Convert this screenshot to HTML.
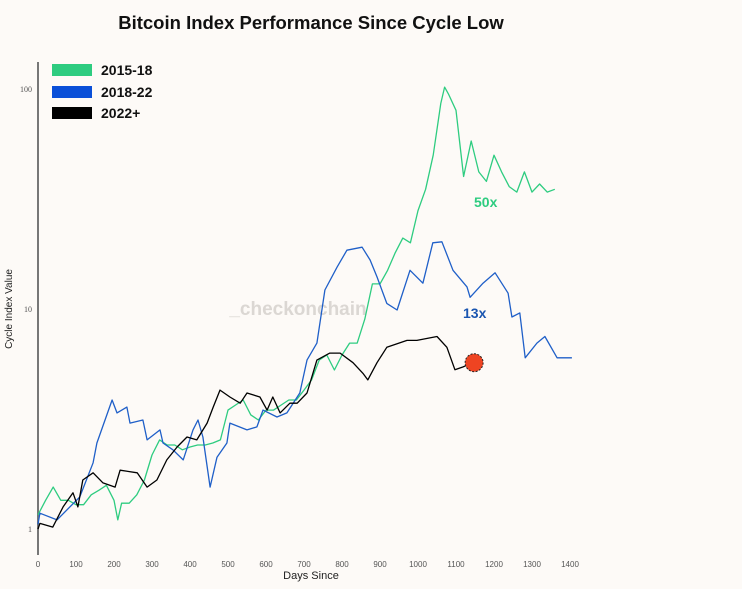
<!DOCTYPE html>
<html><head><meta charset="utf-8">
<style>
body{margin:0;background:#fdfaf7;}
svg{display:block;font-family:"Liberation Sans",sans-serif;}
</style></head>
<body>
<svg id="chart" width="742" height="589" viewBox="0 0 742 589">
<rect width="742" height="589" fill="#fdfaf7"/>
<text x="311" y="29" text-anchor="middle" font-size="18.5" font-weight="bold" fill="#111">Bitcoin Index Performance Since Cycle Low</text>
<text x="298" y="315" text-anchor="middle" font-size="19" font-weight="bold" fill="#dbd7d3">_checkonchain</text>
<line x1="38" y1="62" x2="38" y2="555" stroke="#777" stroke-width="2"/>
<g id="ticks"></g>
<g id="lines"></g>
<text x="12" y="309" transform="rotate(-90 12 309)" text-anchor="middle" font-size="10" fill="#222">Cycle Index Value</text>
<text x="311" y="579" text-anchor="middle" font-size="11" fill="#222">Days Since</text>
<g>
<rect x="52" y="64" width="40" height="12" fill="#2ecc80"/>
<text x="101" y="75" font-size="14" font-weight="bold" fill="#111">2015-18</text>
<rect x="52" y="86" width="40" height="12" fill="#0a4fd8"/>
<text x="101" y="97" font-size="14" font-weight="bold" fill="#111">2018-22</text>
<rect x="52" y="107" width="40" height="12" fill="#000"/>
<text x="101" y="118" font-size="14" font-weight="bold" fill="#111">2022+</text>
</g>
<text x="474" y="207" font-size="14" font-weight="bold" fill="#2ecc80">50x</text>
<text x="463" y="318" font-size="14" font-weight="bold" fill="#1a55b0">13x</text>
</svg>
<script>
const xTicks=[0,100,200,300,400,500,600,700,800,900,1000,1100,1200,1300,1400];
const yTicks=[1,10,100];
const yTickLabels=["1","10","100"];
const greenDays=[0,20,40,60,80,100,120,140,160,180,200,210,220,240,260,280,300,320,340,360,380,400,420,440,460,480,500,520,540,560,580,600,620,640,660,680,700,720,740,760,780,800,820,840,860,880,900,920,940,960,980,1000,1020,1040,1060,1070,1080,1100,1120,1140,1160,1180,1200,1220,1240,1260,1280,1300,1320,1340,1360];
const greenVals=[1.16,1.35,1.55,1.35,1.35,1.29,1.29,1.43,1.5,1.58,1.35,1.1,1.31,1.31,1.43,1.67,2.17,2.54,2.41,2.41,2.29,2.36,2.41,2.41,2.46,2.54,3.47,3.66,3.86,3.3,3.13,3.47,3.47,3.66,3.86,3.86,4.28,4.76,5.86,6.18,5.28,6.18,7.0,7.0,9.0,13,13,15,18,21,20,28,35,50,86,102,95,80,40,58,42,38,50,42,36,34,42,34,37,34,35];
const blueDays=[0,5,50,110,145,155,195,208,234,242,276,287,321,329,355,382,408,421,434,453,471,497,505,550,576,592,629,655,689,708,734,755,787,813,853,874,892,918,945,979,1013,1039,1063,1092,1129,1137,1171,1203,1237,1247,1268,1282,1313,1334,1366,1405];
const blueVals=[1.05,1.18,1.1,1.4,2.0,2.46,3.86,3.37,3.58,3.03,3.13,2.54,2.82,2.46,2.29,2.06,2.82,3.13,2.62,1.55,2.12,2.46,3.03,2.82,2.91,3.47,3.23,3.37,4.15,5.86,7.0,12.2,15.5,18.5,19.1,16.7,14.0,10.6,9.9,15.0,13.1,20,20.2,15.0,12.6,11.3,13.1,14.6,11.8,9.2,9.6,6.0,7.0,7.5,6.0,6.0];
const blackDays=[0,5,39,66,92,105,118,145,171,203,216,261,287,313,339,366,392,418,445,461,479,505,532,550,584,603,618,637,663,682,708,734,768,795,829,855,868,892,918,971,997,1050,1076,1097,1118,1145];
const blackVals=[1.0,1.06,1.02,1.26,1.46,1.26,1.67,1.8,1.62,1.55,1.85,1.8,1.55,1.67,2.06,2.36,2.62,2.54,3.03,3.58,4.28,3.98,3.73,4.15,3.98,3.47,3.98,3.37,3.73,3.73,4.15,5.86,6.3,6.3,5.7,5.1,4.76,5.7,6.7,7.2,7.2,7.5,6.7,5.3,5.45,5.7];
const NS="http://www.w3.org/2000/svg";
function xS(d){return 38+d*0.38;}
function yS(v){return 529-220*Math.log10(v);}
const ticks=document.getElementById('ticks');
xTicks.forEach(t=>{
 const el=document.createElementNS(NS,'text');
 el.setAttribute('x',xS(t));el.setAttribute('y',567);
 el.setAttribute('text-anchor','middle');el.setAttribute('font-size','8');el.setAttribute('fill','#555');
 el.textContent=t;
 
 
 ticks.appendChild(el);
});
yTicks.forEach((t,i)=>{
 const el=document.createElementNS(NS,'text');
 el.setAttribute('x',32);el.setAttribute('y',yS(t)+3);
 el.setAttribute('text-anchor','end');el.setAttribute('font-size','8');el.setAttribute('fill','#555');
 el.setAttribute('font-family','"Liberation Serif",serif');
 el.textContent=yTickLabels[i];
 
 
 ticks.appendChild(el);
});
const lines=document.getElementById('lines');
function drawLine(days,vals,color,name){
 const p=document.createElementNS(NS,'polyline');
 p.setAttribute('points',days.map((d,i)=>xS(d).toFixed(1)+','+yS(vals[i]).toFixed(1)).join(' '));
 p.setAttribute('fill','none');p.setAttribute('stroke',color);p.setAttribute('stroke-width','1.3');p.setAttribute('stroke-linejoin','round');
 
 
 lines.appendChild(p);
}
drawLine(greenDays,greenVals,'#2ecc80','line-2015-18');
drawLine(blueDays,blueVals,'#1f5fc8','line-2018-22');
drawLine(blackDays,blackVals,'#000','line-2022');
const lastD=blackDays[blackDays.length-1], lastV=blackVals[blackVals.length-1];
const c=document.createElementNS(NS,'circle');
c.setAttribute('cx',xS(lastD)+1);c.setAttribute('cy',yS(lastV));c.setAttribute('r',9);
c.setAttribute('fill','#ee4422');c.setAttribute('stroke','#222');c.setAttribute('stroke-dasharray','2,1.5');


lines.appendChild(c);
</script>
</body></html>
